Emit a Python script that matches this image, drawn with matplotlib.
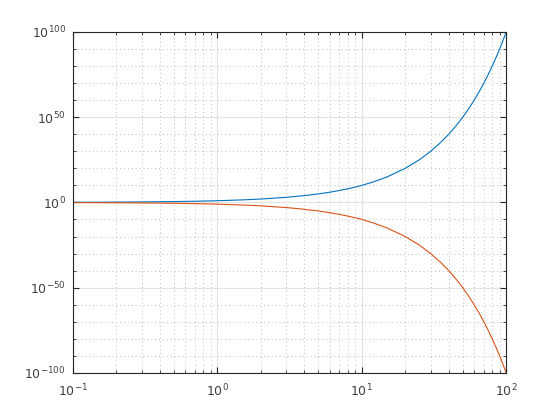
import numpy as np
import matplotlib.pyplot as plt
from matplotlib.ticker import FixedLocator, LogLocator, NullFormatter

# x values and the decade exponents of the two curves
x = [0.1, 0.15, 0.2, 0.3, 0.5, 0.7, 1, 1.5, 2, 3, 4, 5, 6, 7, 8, 9, 10,
     12, 15, 20, 25, 30, 35, 40, 45, 50, 55, 60, 65, 70, 75, 80, 85, 90, 95, 100]
upper_exp = [0.1, 0.15, 0.2, 0.3, 0.5, 0.7, 1, 1.5, 2, 3, 4, 5, 6, 7, 8, 9, 10,
             12, 15, 20, 25, 30, 35, 40, 45, 50, 55, 60, 65, 70, 75, 80, 85, 90, 95, 100]
lower_exp = [-0.1, -0.15, -0.2, -0.3, -0.5, -0.7, -1, -1.5, -2, -3, -4, -5, -6, -7, -8, -9, -10,
             -12, -15, -20, -25, -30, -35, -40, -45, -50, -55, -60, -65, -70, -75, -80, -85, -90, -95, -100]

y_upper = 10.0 ** np.array(upper_exp, dtype=float)
y_lower = 10.0 ** np.array(lower_exp, dtype=float)

fig = plt.figure(figsize=(5.6, 4.2), dpi=100)
ax = fig.add_axes([0.13, 0.112, 0.774, 0.812])

ax.plot(x, y_upper, color='#0072BD', linewidth=0.8)
ax.plot(x, y_lower, color='#D95319', linewidth=0.8)

ax.set_xscale('log')
ax.set_yscale('log')
ax.set_xlim(0.1, 100)
ax.set_ylim(1e-100, 1e100)

ax.yaxis.set_major_locator(FixedLocator(10.0 ** np.arange(-100, 101, 50)))
ax.yaxis.set_minor_locator(FixedLocator(10.0 ** np.arange(-100, 101, 10)))
ax.yaxis.set_minor_formatter(NullFormatter())
ax.xaxis.set_major_locator(LogLocator(base=10))
ax.xaxis.set_minor_locator(LogLocator(base=10, subs=np.arange(2, 10)))
ax.xaxis.set_minor_formatter(NullFormatter())

ax.grid(True, which='major', color='#e3e3e3', linestyle='-', linewidth=0.8)
ax.grid(True, which='minor', color='#bdbdbd', linestyle=(0, (1, 3)), linewidth=0.7)
ax.set_axisbelow(True)

ax.tick_params(which='both', direction='in', top=True, right=True,
               colors='#262626', labelsize=9)
ax.tick_params(axis='both', labelcolor='#404040')
ax.tick_params(which='major', length=4)
ax.tick_params(which='minor', length=2.5)
ax.tick_params(axis='x', which='major', pad=7)
ax.tick_params(axis='y', which='major', pad=5)
for s in ax.spines.values():
    s.set_color('#262626')
    s.set_linewidth(0.8)

fig.savefig('out.png', dpi=100)
